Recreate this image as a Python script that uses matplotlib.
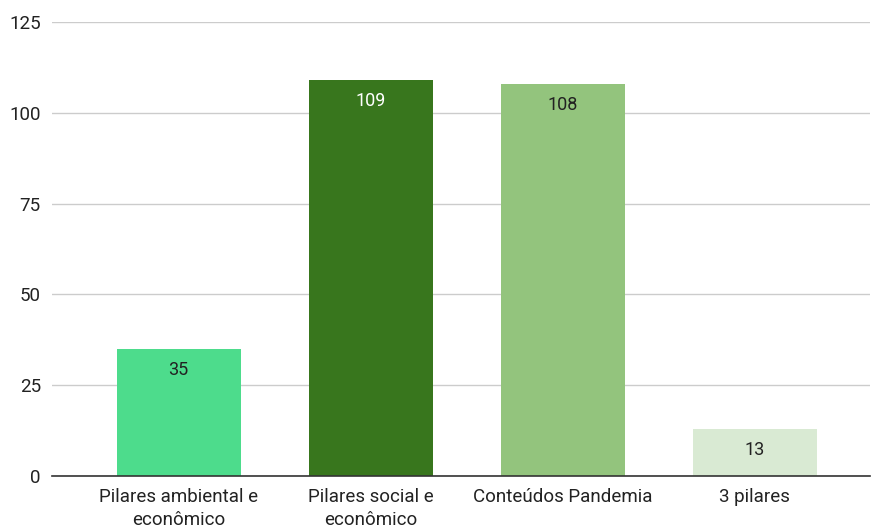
import numpy as np
import matplotlib.pyplot as plt

categories = ["Pilares ambiental e\neconômico", "Pilares social e\neconômico",
              "Conteúdos Pandemia", "3 pilares"]
values = [35, 109, 108, 13]
bar_colors = ["#4ddc8c", "#38761d", "#93c47d", "#d9ead3"]
label_colors = ["#222222", "#ffffff", "#222222", "#222222"]
yticks = [0, 25, 50, 75, 100, 125]

plt.rcParams["font.family"] = ["Roboto", "DejaVu Sans"]

fig = plt.figure(figsize=(8.72, 5.28), dpi=100)
ax = fig.add_axes([0.0596, 0.0985, 0.938, 0.8598])

x = np.arange(len(categories))
bars = ax.bar(x, values, width=0.644, color=bar_colors, zorder=2)

# value labels sit just inside the top of each bar
for rect, v, c in zip(bars, values, label_colors):
    ax.annotate(str(v), (rect.get_x() + rect.get_width() / 2, v),
                xytext=(0, -21), textcoords="offset pixels",
                ha="center", va="center", fontsize=13, color=c, zorder=3)

ax.set_xlim(-0.66, 3.6)
ax.set_ylim(0, 125)
ax.set_yticks(yticks)
ax.set_xticks(x)
ax.set_xticklabels(categories, fontsize=13.5, color="#222222", linespacing=1.3)
ax.tick_params(axis="y", labelsize=13.5, labelcolor="#222222", length=0, pad=8)
ax.tick_params(axis="x", length=0, pad=9)

ax.grid(axis="y", color="#cccccc", linewidth=1, zorder=0)
for side in ["top", "right", "left"]:
    ax.spines[side].set_visible(False)
ax.spines["bottom"].set_color("#333333")
ax.spines["bottom"].set_linewidth(1.2)
ax.spines["bottom"].set_zorder(4)

fig.savefig("out.png", dpi=100)
